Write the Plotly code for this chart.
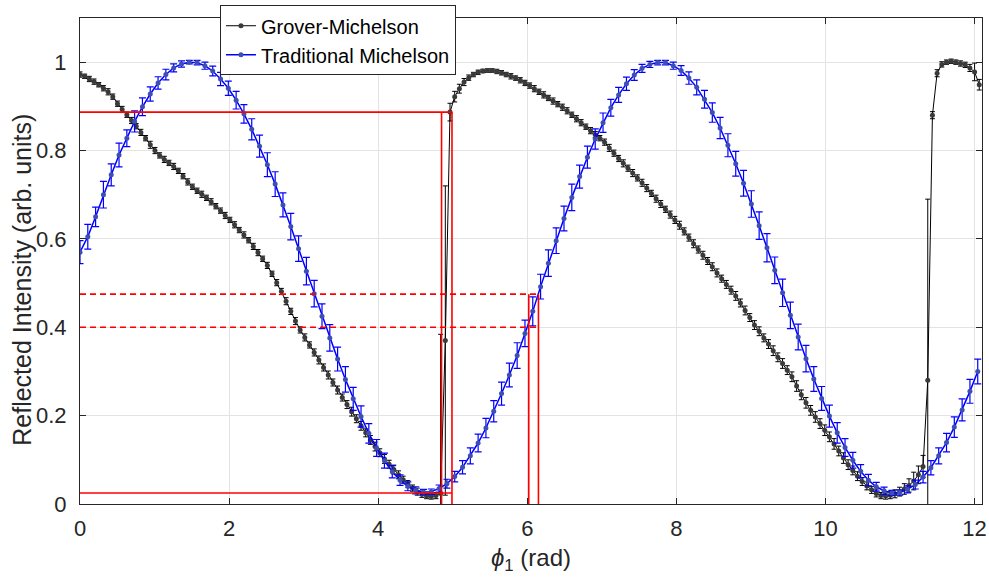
import plotly.graph_objects as go

# ---------------- data ----------------
black_step = 0.06283   # sampling step of the Grover-Michelson scan (rad)
blue_step = 0.10472    # sampling step of the Traditional Michelson scan (rad)

black_y = [
    0.972, 0.968, 0.962, 0.956, 0.949, 0.941, 0.933, 0.922, 0.906, 0.893,
    0.881, 0.868, 0.855, 0.841, 0.828, 0.813, 0.800, 0.789, 0.780, 0.772,
    0.764, 0.754, 0.742, 0.729, 0.718, 0.709, 0.701, 0.693, 0.684, 0.674,
    0.664, 0.653, 0.643, 0.632, 0.620, 0.609, 0.597, 0.583, 0.569, 0.555,
    0.540, 0.521, 0.501, 0.481, 0.459, 0.436, 0.414, 0.394, 0.377, 0.360,
    0.343, 0.326, 0.309, 0.292, 0.275, 0.258, 0.241, 0.225, 0.209, 0.193,
    0.177, 0.161, 0.145, 0.130, 0.116, 0.102, 0.090, 0.078, 0.066, 0.055,
    0.045, 0.036, 0.028, 0.022, 0.018, 0.017, 0.019, 0.024, 0.370, 0.887,
    0.922, 0.940, 0.955, 0.965, 0.972, 0.977, 0.980, 0.981, 0.981, 0.979,
    0.976, 0.972, 0.968, 0.964, 0.959, 0.953, 0.947, 0.940, 0.933, 0.926,
    0.919, 0.912, 0.905, 0.898, 0.890, 0.881, 0.872, 0.863, 0.854, 0.845,
    0.836, 0.828, 0.819, 0.806, 0.794, 0.782, 0.771, 0.760, 0.749, 0.738,
    0.727, 0.715, 0.703, 0.691, 0.679, 0.667, 0.655, 0.643, 0.631, 0.617,
    0.603, 0.589, 0.576, 0.563, 0.550, 0.537, 0.523, 0.510, 0.497, 0.484,
    0.471, 0.455, 0.438, 0.422, 0.405, 0.391, 0.376, 0.362, 0.347, 0.332,
    0.318, 0.303, 0.288, 0.267, 0.247, 0.229, 0.212, 0.197, 0.182, 0.167,
    0.152, 0.136, 0.120, 0.104, 0.089, 0.076, 0.063, 0.051, 0.041, 0.032,
    0.024, 0.019, 0.018, 0.020, 0.023, 0.028, 0.034, 0.042, 0.052, 0.066,
    0.085, 0.280, 0.880, 0.975, 0.995, 1.000, 1.002, 1.000, 0.997, 0.994,
    0.987, 0.978, 0.949,
]
black_err = [
    0.006, 0.005, 0.006, 0.006, 0.005, 0.006, 0.007, 0.006, 0.006, 0.007,
    0.006, 0.007, 0.006, 0.007, 0.006, 0.008, 0.007, 0.006, 0.007, 0.006,
    0.007, 0.006, 0.006, 0.007, 0.006, 0.006, 0.007, 0.006, 0.007, 0.006,
    0.006, 0.007, 0.006, 0.007, 0.006, 0.007, 0.006, 0.007, 0.007, 0.006,
    0.007, 0.006, 0.007, 0.007, 0.008, 0.007, 0.008, 0.007, 0.008, 0.007,
    0.008, 0.009, 0.008, 0.009, 0.008, 0.009, 0.008, 0.009, 0.010, 0.009,
    0.010, 0.009, 0.010, 0.010, 0.009, 0.010, 0.009, 0.010, 0.009, 0.008,
    0.008, 0.007, 0.008, 0.007, 0.006, 0.006, 0.007, 0.360, 0.350, 0.020,
    0.012, 0.010, 0.008, 0.006, 0.005, 0.005, 0.004, 0.004, 0.004, 0.005,
    0.005, 0.005, 0.006, 0.005, 0.006, 0.006, 0.006, 0.007, 0.006, 0.007,
    0.006, 0.007, 0.006, 0.007, 0.007, 0.006, 0.007, 0.007, 0.006, 0.007,
    0.007, 0.006, 0.007, 0.008, 0.007, 0.007, 0.008, 0.007, 0.008, 0.007,
    0.008, 0.008, 0.007, 0.008, 0.008, 0.007, 0.008, 0.008, 0.009, 0.008,
    0.008, 0.009, 0.008, 0.009, 0.008, 0.009, 0.009, 0.008, 0.009, 0.009,
    0.010, 0.009, 0.010, 0.009, 0.010, 0.010, 0.009, 0.010, 0.011, 0.010,
    0.011, 0.010, 0.011, 0.012, 0.011, 0.012, 0.011, 0.012, 0.011, 0.012,
    0.011, 0.012, 0.011, 0.012, 0.011, 0.010, 0.010, 0.009, 0.009, 0.008,
    0.008, 0.007, 0.007, 0.008, 0.009, 0.010, 0.012, 0.015, 0.020, 0.020,
    0.025, 0.410, 0.008, 0.008, 0.006, 0.005, 0.005, 0.005, 0.006, 0.006,
    0.008, 0.020, 0.012,
]

blue_y = [
    0.570, 0.605, 0.650, 0.700, 0.745, 0.790, 0.828, 0.866, 0.899, 0.928,
    0.953, 0.972, 0.987, 0.996, 1.000, 0.999, 0.992, 0.980, 0.962, 0.941,
    0.914, 0.883, 0.848, 0.810, 0.768, 0.724, 0.677, 0.628, 0.578, 0.527,
    0.476, 0.425, 0.376, 0.328, 0.282, 0.238, 0.198, 0.160, 0.127, 0.098,
    0.073, 0.054, 0.040, 0.031, 0.027, 0.028, 0.035, 0.046, 0.062, 0.083,
    0.109, 0.138, 0.172, 0.210, 0.250, 0.292, 0.336, 0.386, 0.436, 0.492,
    0.545, 0.596, 0.646, 0.694, 0.741, 0.785, 0.826, 0.863, 0.897, 0.926,
    0.951, 0.971, 0.986, 0.995, 0.999, 0.999, 0.992, 0.981, 0.964, 0.943,
    0.916, 0.886, 0.851, 0.812, 0.770, 0.726, 0.679, 0.630, 0.580, 0.529,
    0.478, 0.427, 0.378, 0.329, 0.283, 0.239, 0.199, 0.161, 0.128, 0.099,
    0.074, 0.054, 0.039, 0.030, 0.025, 0.026, 0.033, 0.044, 0.061, 0.082,
    0.109, 0.139, 0.174, 0.213, 0.255, 0.300,
]
blue_err = [
    0.026, 0.028, 0.022, 0.030, 0.025, 0.027, 0.019, 0.024, 0.020, 0.016,
    0.014, 0.012, 0.009, 0.007, 0.004, 0.005, 0.008, 0.011, 0.015, 0.016,
    0.020, 0.021, 0.024, 0.025, 0.027, 0.028, 0.027, 0.030, 0.029, 0.031,
    0.030, 0.028, 0.030, 0.027, 0.029, 0.026, 0.024, 0.022, 0.019, 0.017,
    0.014, 0.012, 0.010, 0.008, 0.006, 0.006, 0.008, 0.010, 0.012, 0.015,
    0.018, 0.020, 0.022, 0.024, 0.026, 0.027, 0.029, 0.030, 0.033, 0.028,
    0.030, 0.029, 0.028, 0.030, 0.026, 0.025, 0.023, 0.022, 0.019, 0.017,
    0.015, 0.012, 0.009, 0.007, 0.005, 0.005, 0.008, 0.011, 0.014, 0.017,
    0.020, 0.022, 0.024, 0.026, 0.028, 0.029, 0.030, 0.031, 0.032, 0.030,
    0.031, 0.030, 0.029, 0.030, 0.028, 0.027, 0.025, 0.023, 0.020, 0.018,
    0.015, 0.013, 0.010, 0.008, 0.006, 0.006, 0.008, 0.010, 0.013, 0.016,
    0.018, 0.021, 0.023, 0.025, 0.027, 0.028,
]

black_phi = [round(i * black_step, 4) for i in range(len(black_y))]
blue_phi = [round(i * blue_step, 4) for i in range(len(blue_y))]

# red guide lines (rad / intensity)
solid_levels = [0.887, 0.025]
solid_phis = [4.85, 4.99]
dashed_levels = [0.475, 0.400]
dashed_phis = [6.02, 6.15]

x_ticks = [0, 2, 4, 6, 8, 10, 12]
y_ticks = [0, 0.2, 0.4, 0.6, 0.8, 1]
y_tick_labels = ["0", "0.2", "0.4", "0.6", "0.8", "1"]

FONT = "Liberation Sans, Arial, Helvetica, sans-serif"
TXT = "#262626"

fig = go.Figure()
fig.add_trace(go.Scatter(
    x=black_phi, y=black_y, mode="lines+markers", name="Grover-Michelson",
    line=dict(color="black", width=1),
    marker=dict(color="#3a3a3a", size=5),
    error_y=dict(type="data", array=black_err, visible=True,
                 color="black", thickness=1, width=2.5),
))
fig.add_trace(go.Scatter(
    x=blue_phi, y=blue_y, mode="lines+markers", name="Traditional Michelson",
    line=dict(color="#0000ff", width=1.5),
    marker=dict(color="#3d4fb0", size=5),
    error_y=dict(type="data", array=blue_err, visible=True,
                 color="#0000ff", thickness=1.2, width=3.5),
))

shapes = []
red = dict(color="#ff0000", width=1.6)
for lv in solid_levels:
    shapes.append(dict(type="line", xref="x", yref="y", x0=0, x1=max(solid_phis),
                       y0=lv, y1=lv, line=red, layer="above"))
for ph in solid_phis:
    shapes.append(dict(type="line", xref="x", yref="y", x0=ph, x1=ph,
                       y0=0, y1=max(solid_levels), line=red, layer="above"))
for lv in dashed_levels:
    shapes.append(dict(type="line", xref="x", yref="y", x0=0, x1=max(dashed_phis),
                       y0=lv, y1=lv, line=dict(color="#ff0000", width=1.6, dash="6px,4px"),
                       layer="above"))
for ph in dashed_phis:
    shapes.append(dict(type="line", xref="x", yref="y", x0=ph, x1=ph,
                       y0=0, y1=max(dashed_levels), line=red, layer="above"))

axis_common = dict(
    showline=True, linecolor=TXT, linewidth=1, mirror="ticks",
    ticks="inside", ticklen=6, tickcolor=TXT, tickwidth=1,
    showgrid=True, gridcolor="#e3e3e3", gridwidth=1, zeroline=False,
    tickfont=dict(family=FONT, size=22, color=TXT),
    automargin=False,
)

fig.update_layout(
    width=989, height=582,
    margin=dict(l=80, r=7, t=18, b=78, autoexpand=False),
    plot_bgcolor="white", paper_bgcolor="white",
    shapes=shapes,
    showlegend=True,
    legend=dict(
        xref="container", yref="container",
        x=0.2224, y=0.991, xanchor="left", yanchor="top",
        bgcolor="white", bordercolor=TXT, borderwidth=1,
        font=dict(family=FONT, size=20, color="black"),
        itemwidth=30, tracegroupgap=0,
    ),
    xaxis=dict(range=[0, 12.1], tickvals=x_ticks, ticklabelstandoff=5,
               ticklabeloverflow="allow",
               title=dict(text="<i>ϕ</i><sub>1</sub> (rad)",
                          font=dict(family=FONT, size=24, color=TXT), standoff=8),
               **axis_common),
    yaxis=dict(range=[0, 1.1], tickvals=y_ticks, ticktext=y_tick_labels,
               ticklabelstandoff=8, **axis_common),
    annotations=[dict(
        text="Reflected Intensity (arb. units)", textangle=-90,
        xref="paper", yref="paper", x=-0.064, y=0.462,
        xanchor="center", yanchor="middle", showarrow=False,
        font=dict(family=FONT, size=25, color=TXT),
    )],
)

fig.write_html(
    "out.html",
    config={"displayModeBar": False},
    post_script="document.body.style.margin='0px';document.body.style.overflow='hidden';",
)
